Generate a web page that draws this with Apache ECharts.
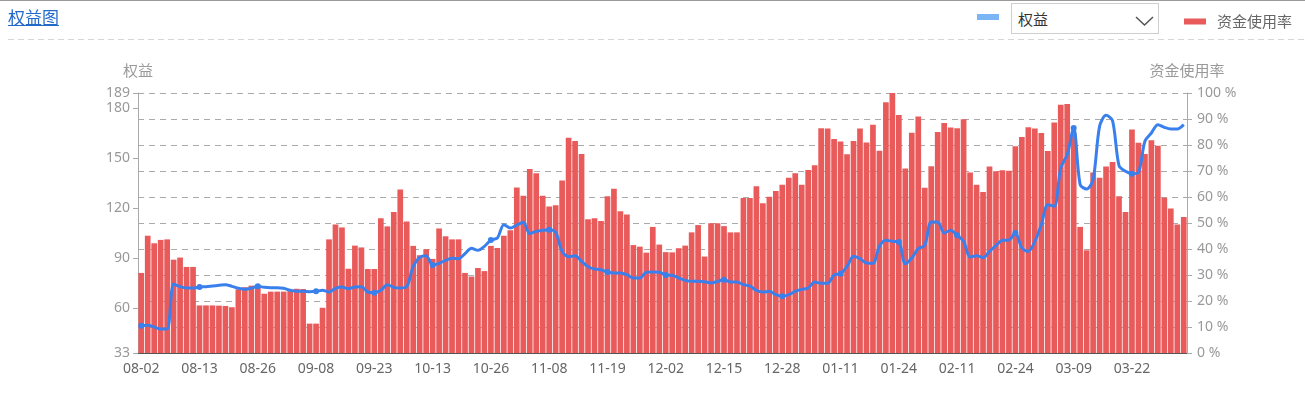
<!DOCTYPE html>
<html><head><meta charset="utf-8">
<script src="https://cdn.jsdelivr.net/npm/echarts@6/dist/echarts.min.js"></script>
<style>
html,body{margin:0;padding:0;width:1305px;height:394px;overflow:hidden;background:#fff;}
#chart{position:absolute;left:0;top:0;width:1305px;height:394px;}
#topline{position:absolute;left:0;top:0;width:1305px;height:1px;background:#9a9a9a;z-index:2;}
#title{position:absolute;left:8px;top:4px;font-size:17px;line-height:26px;color:#2369c9;text-decoration:underline;font-family:"Noto Sans CJK SC",sans-serif;z-index:2;}
#dash{position:absolute;left:8px;top:39px;width:1297px;height:1px;background:repeating-linear-gradient(to right,#d6d6d6 0 6px,transparent 6px 10px);z-index:2;}
#sel{position:absolute;left:1011px;top:3px;width:148px;height:31px;border:1px solid #cfcfcf;box-sizing:border-box;background:#fff;z-index:2;font-family:"Noto Sans CJK SC",sans-serif;font-size:15px;color:#333;line-height:29px;padding-left:6px;}
#sel svg{position:absolute;left:123px;top:12px;}
</style></head>
<body>
<div id="chart"></div>
<div id="topline"></div>
<div id="title">权益图</div>
<div id="dash"></div>
<div id="sel">权益<svg width="20" height="10" viewBox="0 0 20 10"><polyline points="1,1 9.5,9 18,1" fill="none" stroke="#555" stroke-width="1.5"/></svg></div>
<script>
const categories = [
'08-02','08-03','08-04','08-05','08-06','08-09','08-10','08-11','08-12','08-13','08-16','08-17','08-18','08-19','08-20','08-23','08-24','08-25','08-26','08-27','08-30','08-31',
'09-01','09-02','09-03','09-06','09-07','09-08','09-09','09-10','09-13','09-14','09-15','09-16','09-17','09-22','09-23','09-24','09-27','09-28','09-29','09-30',
'10-08','10-11','10-12','10-13','10-14','10-15','10-18','10-19','10-20','10-21','10-22','10-25','10-26','10-27','10-28','10-29',
'11-01','11-02','11-03','11-04','11-05','11-08','11-09','11-10','11-11','11-12','11-15','11-16','11-17','11-18','11-19','11-22','11-23','11-24','11-25','11-26','11-29','11-30',
'12-01','12-02','12-03','12-06','12-07','12-08','12-09','12-10','12-13','12-14','12-15','12-16','12-17','12-20','12-21','12-22','12-23','12-24','12-27','12-28','12-29','12-30','12-31',
'01-04','01-05','01-06','01-07','01-10','01-11','01-12','01-13','01-14','01-17','01-18','01-19','01-20','01-21','01-24','01-25','01-26','01-27','01-28',
'02-07','02-08','02-09','02-10','02-11','02-14','02-15','02-16','02-17','02-18','02-21','02-22','02-23','02-24','02-25','02-28',
'03-01','03-02','03-03','03-04','03-07','03-08','03-09','03-10','03-11','03-14','03-15','03-16','03-17','03-18','03-21','03-22','03-23','03-24','03-25','03-28','03-29','03-30','03-31',
'04-01'
];
// 资金使用率 (%)
const usageRate = [
30.8,45.1,42.2,43.5,43.7,35.9,36.7,33.1,33.1,18.3,18.3,18.3,18.2,18.1,17.6,24.5,25.3,25.9,25.4,22.8,23.6,23.6,
23.6,23.8,24.7,24.6,11.3,11.3,17.4,43.7,49.4,48.3,32.4,41.3,40.6,32.3,32.3,51.8,48.7,54.2,62.9,50.6,
41.2,37.6,39.9,36.2,47.9,44.9,43.7,43.7,30.8,29.4,32.7,31.5,41.2,40.4,45.1,47.2,
63.7,60.5,70.8,69.1,60.5,56.3,56.8,66.3,82.8,81.5,76.5,51.4,51.8,50.8,60.3,63.2,54.5,53.3,41.5,40.9,38.6,48.5,
41.7,38.8,38.7,40.3,41.3,46.4,49.2,37.1,49.9,49.9,48.8,46.4,46.4,59.6,59.6,64.1,57.6,60.1,62.3,64.7,67.4,69.1,64.7,
70.4,72.2,86.4,86.3,82.3,81.3,76.4,81.5,86.3,81,87.8,77.8,96.4,100,91.5,71,84.7,91,63.6,
71.8,85,88.5,86.7,86.4,89.9,69.4,64.7,61.9,71.7,69.9,70.3,70.1,79.5,83.1,86.8,
86.3,84.6,77.7,88.7,95.5,95.8,84.4,48.5,39.5,69.4,67.4,71.7,73.5,60.3,54.2,86,80.9,76.5,81.8,79.7,59.7,55.6,49.4,
52.3
];
// 权益
const equity = [
49.4,49.6,48.6,47.4,47.4,74.4,72.8,72,72,72.6,72.8,73.2,73.6,74,73,71.8,71.2,71.8,73,72.4,72.2,72.2,
71.8,70.6,70,70,69.8,70,70.6,69.6,71.8,72.6,71.6,72.6,72.8,69.6,69.2,70.6,74,72.4,72,72.8,
85,90.4,91.4,85.8,86.8,88.6,89.8,89.6,92.6,95.8,94.6,97,100.8,102,110,108,
109.8,111.4,104.6,106,106.6,107,105.4,94,90.8,91.4,88,84.8,83.4,83,81.6,81,81,80,78,78,81.4,81.6,
81.4,79.8,79.6,78,76.6,76,76,75.8,75,76,77,75.6,75.6,74,73.2,70.6,69.6,70,68,67,68,70,71.2,
72,75.6,74.8,74.8,79.8,80.6,85,91,89.6,87,86.8,97,100.6,100,99.6,86.6,90,95.6,97.6,
111.6,111.6,105,106.6,103.6,100,90.6,91.4,90.2,94,97.4,100.6,100.8,105,96,94,
100,110,122,121,144,152,168,134,131.4,137,169,175.6,172.4,145.4,142,140.6,141.4,160,165,170,168.4,167.4,167.4,
170
];
const leftTicks = [33, 60, 90, 120, 150, 180, 189];

const FONT = '"Noto Sans", "Noto Sans CJK SC", sans-serif';
const chart = echarts.init(document.getElementById('chart'), null, {renderer: 'canvas'});
chart.setOption({
  animation: false,
  textStyle: {fontFamily: FONT},
  legend: [
    {data: [{name: '权益', itemStyle: {color: '#7cb5f6'}}], left: 972, top: 9, icon: 'rect', itemWidth: 22, itemHeight: 6,
     formatter: () => '', textStyle: {fontSize: 15}, selectedMode: false},
    {data: ['资金使用率'], left: 1179, top: 9, icon: 'rect', itemWidth: 22, itemHeight: 6,
     textStyle: {fontSize: 15, color: '#666', fontFamily: '"Noto Sans CJK SC", sans-serif', padding: [0, 0, 0, 6]}, selectedMode: false}
  ],
  grid: {left: 138, right: 118, top: 93, bottom: 41},
  xAxis: {
    type: 'category', data: categories, boundaryGap: true,
    axisLine: {lineStyle: {color: '#555'}},
    axisTick: {interval: (i) => i % 9 === 5, length: 5, lineStyle: {color: '#555'}},
    axisLabel: {interval: 8, color: '#666', fontSize: 14, margin: 9}
  },
  yAxis: [
    {type: 'value', name: '权益', min: 33, max: 189, position: 'left',
     nameTextStyle: {color: '#999', fontSize: 15, fontFamily: '"Noto Sans CJK SC", sans-serif'}, nameGap: 15,
     axisLine: {show: true, lineStyle: {color: '#aaa'}},
     axisTick: {show: true, customValues: leftTicks, lineStyle: {color: '#aaa'}},
     axisLabel: {customValues: leftTicks, color: '#999', fontSize: 14},
     splitLine: {show: false}},
    {type: 'value', name: '资金使用率', min: 0, max: 100, interval: 10, position: 'right',
     nameTextStyle: {color: '#999', fontSize: 15, fontFamily: '"Noto Sans CJK SC", sans-serif'}, nameGap: 15,
     axisLine: {show: true, lineStyle: {color: '#aaa'}},
     axisTick: {show: true, lineStyle: {color: '#aaa'}},
     axisLabel: {formatter: '{value} %', color: '#999', fontSize: 14, margin: 10},
     splitLine: {show: true, lineStyle: {color: '#aaa', type: [6, 5]}}}
  ],
  series: [
    {name: '资金使用率', type: 'bar', yAxisIndex: 1, data: usageRate, barCategoryGap: '12%',
     itemStyle: {color: '#e95b5b'}},
    {name: '权益', type: 'line', yAxisIndex: 0, data: equity, smooth: 0.3,
     symbol: 'circle', symbolSize: 6, showAllSymbol: 'auto',
     lineStyle: {color: '#3a80ec', width: 3}, itemStyle: {color: '#3a80ec'}, z: 5}
  ]
});
</script>
</body></html>
